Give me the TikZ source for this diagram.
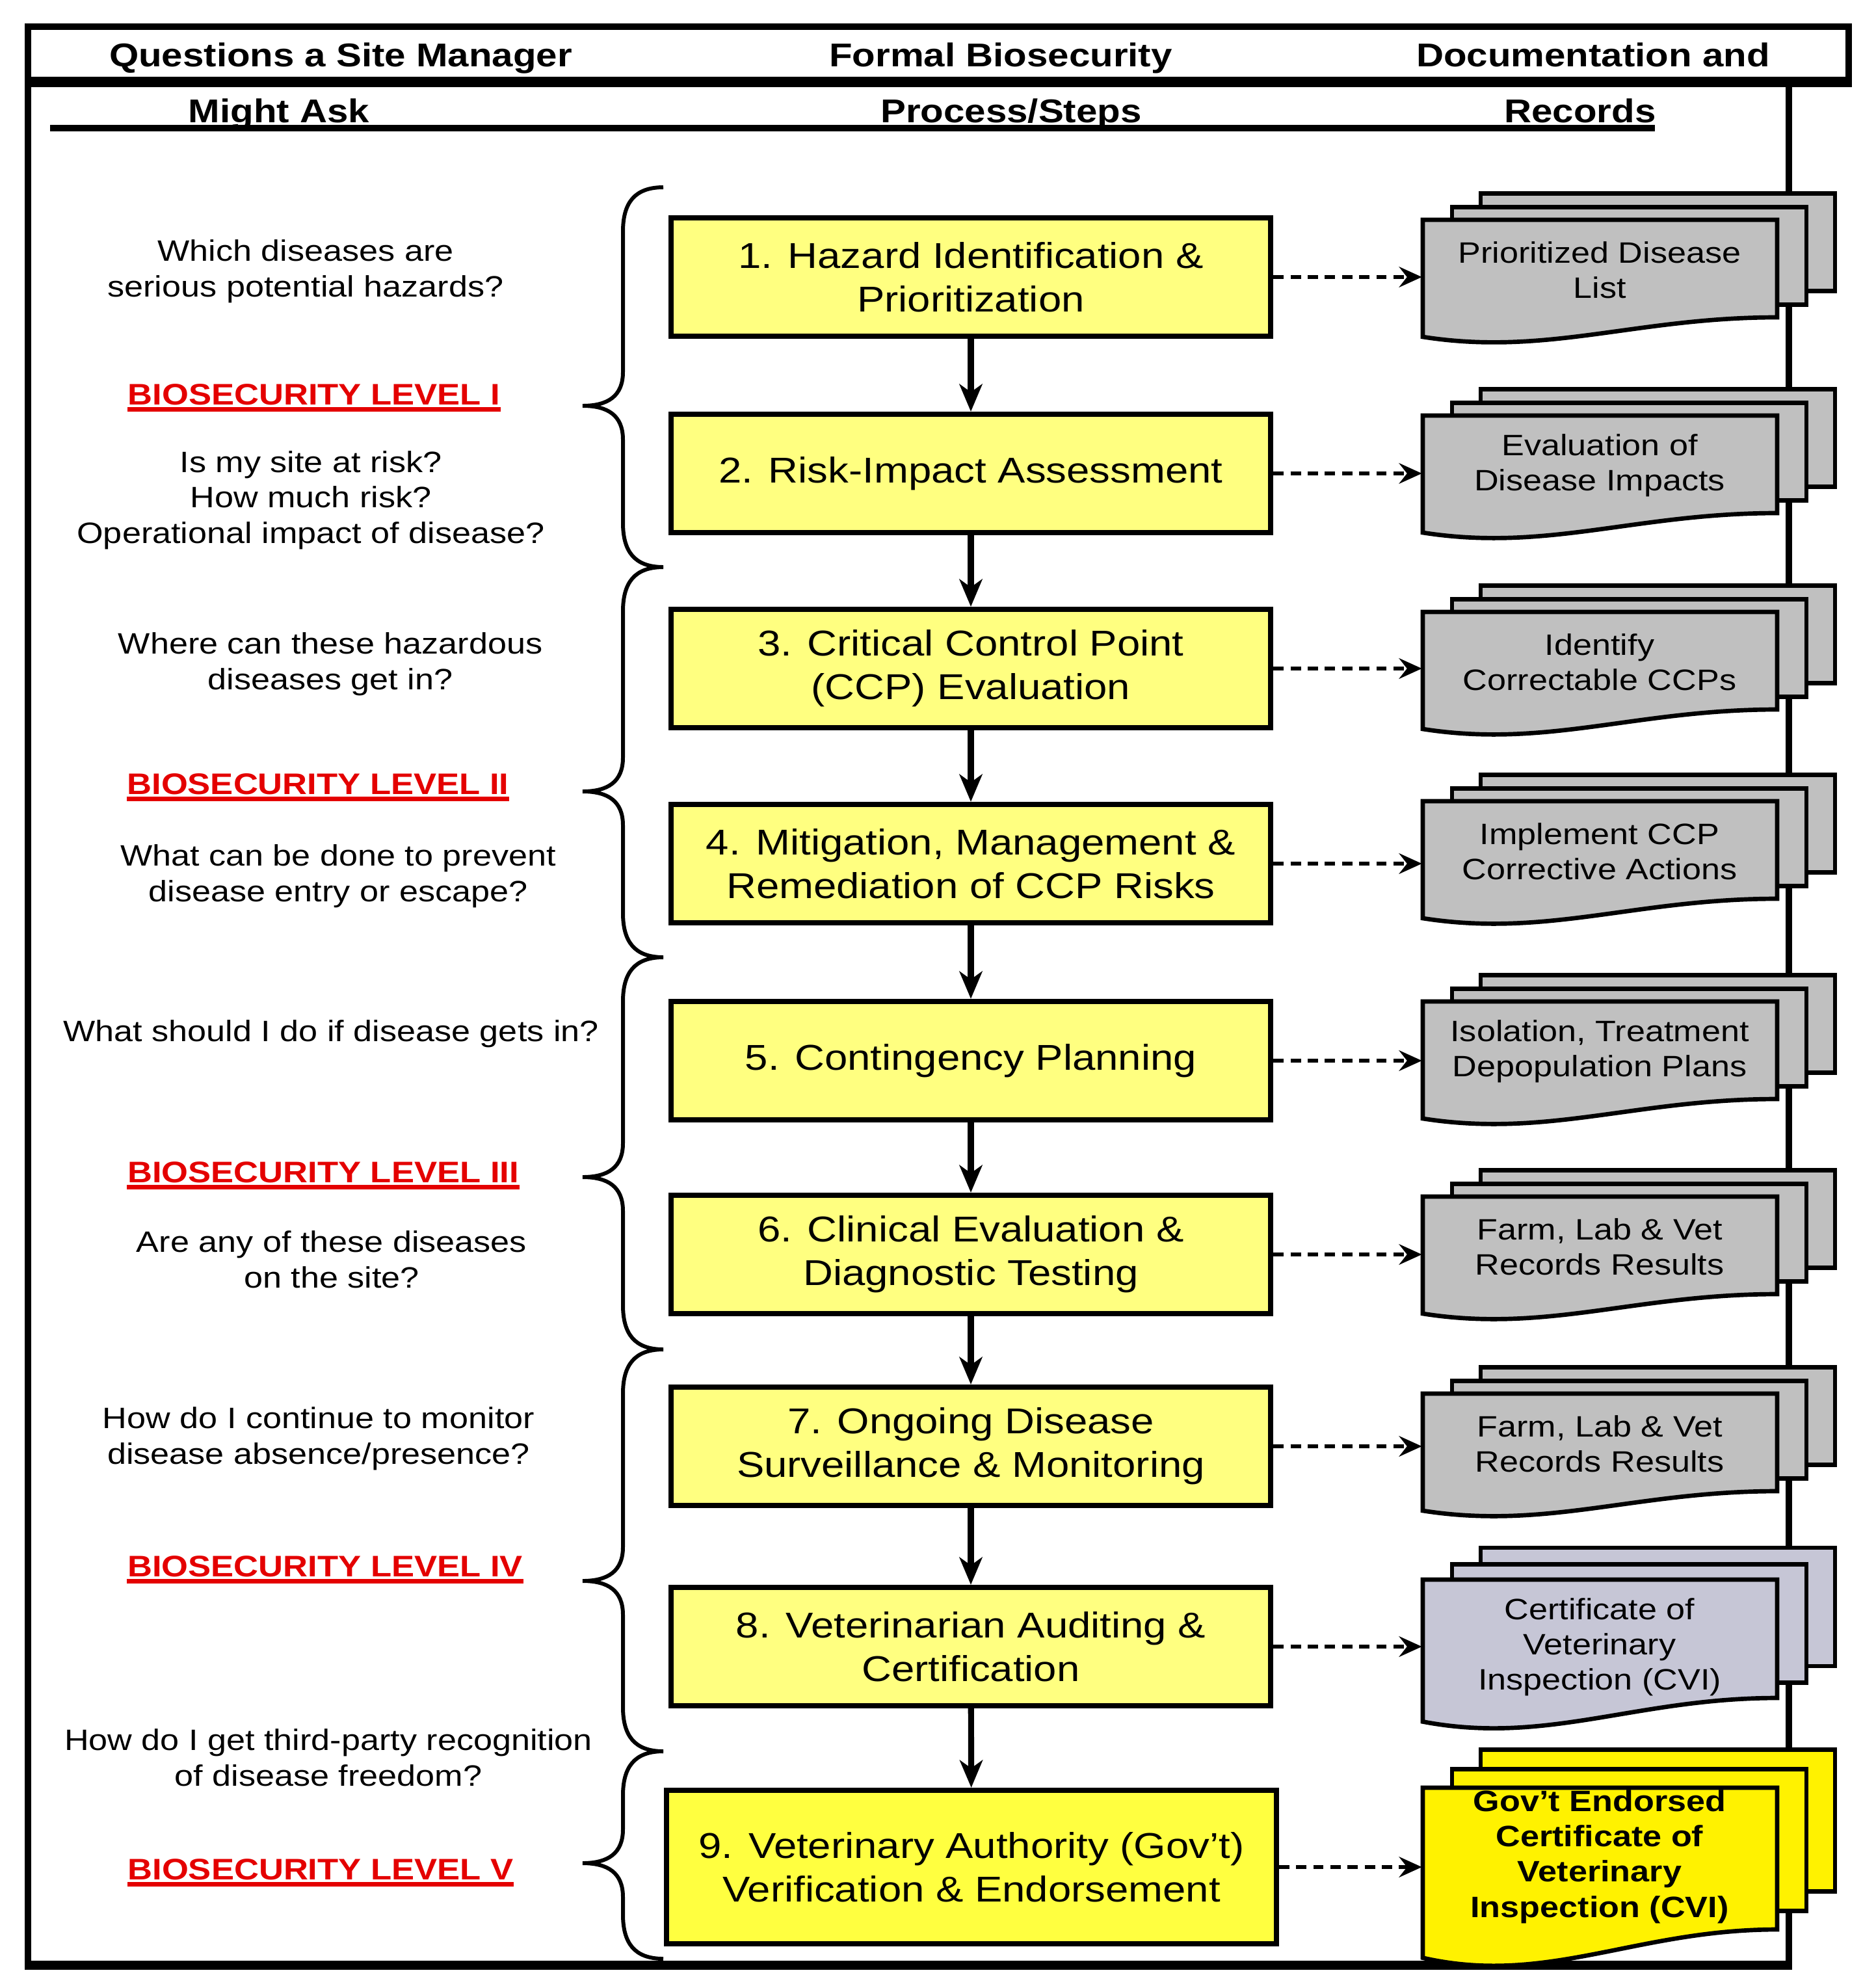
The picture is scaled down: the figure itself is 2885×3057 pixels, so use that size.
\documentclass[tikz,border=0pt]{standalone}
\usepackage{fontspec}
\setmainfont{Liberation Sans}[FakeStretch=1.15]
\usetikzlibrary{arrows.meta}

\definecolor{stepyellow}{RGB}{255,255,128}
\definecolor{topyellow}{RGB}{255,255,64}
\definecolor{docgray}{RGB}{192,192,192}
\definecolor{cvigray}{RGB}{198,198,214}
\definecolor{levelred}{RGB}{228,0,0}

% stacked document symbol: [fill]{name}{top}{height}{text offset}{text}
\newcommand{\docstack}[6][docgray]{%
  \path[sheet,fill=#1] (2277,#3-0.27*#4) rectangle ++(545,#4);
  \path[sheet,fill=#1] (2233,#3-0.13*#4) rectangle ++(545,#4);
  \path[sheet,fill=#1] (2188,#3) -- (2733,#3) -- (2733,#3+#4)
    .. controls (2515,#3+#4) and (2379,#3+1.4*#4) .. (2188,#3+1.2*#4) -- cycle;
  \node (#2) at (2460,#3+#5) [doc] {#6};}

\begin{document}
\begin{tikzpicture}
  [x=0.01cm,y=-0.01cm,
   frame/.style={line width=2.8pt,line join=miter},
   head/.style={font=\fontsize{14.4}{17}\selectfont\bfseries,anchor=base},
   question/.style={font=\fontsize{12.9}{15.4}\selectfont,align=center,anchor=base},
   level/.style={font=\fontsize{13}{15}\selectfont\bfseries,text=levelred,anchor=base,inner sep=0pt},
   uline/.style={levelred,line width=1.9pt},
   stepbox/.style={draw,line width=2.3pt,fill=stepyellow,minimum width=9.22cm,
     minimum height=1.82cm,align=center,font=\fontsize{15.7}{19}\selectfont},
   doc/.style={minimum width=5.45cm,inner sep=0pt,align=center,font=\fontsize{12.9}{15.4}\selectfont},
   sheet/.style={draw,line width=1.9pt,line join=miter},
   flow/.style={line width=2.6pt,-{Stealth[length=12pt,width=10pt,inset=3.5pt]}},
   ref/.style={line width=1.6pt,dash pattern=on 4.5pt off 3pt,-{Stealth[length=10pt,width=9pt,inset=3.5pt]}},
   brace/.style={line width=1.7pt}]
  \useasboundingbox (0,0) rectangle (2885,3057);

  % frame and column heads
  \draw[frame] (43,126) -- (43,41) -- (2843,41) -- (2843,126);
  \draw[frame] (43,126) -- (43,3022) -- (2751,3022) -- (2751,126);
  \draw[line width=4.5pt] (38,126) -- (2848,126);
  \draw[line width=4pt] (38,3022) -- (2756,3022);
  \draw[line width=2.6pt] (77,197) -- (2545,197);
  \node (h1) at (524,102) [head] {Questions a Site Manager};
  \node (h2) at (1539,102) [head] {Formal Biosecurity};
  \node (h3) at (2450,102) [head] {Documentation and};
  \node (h4) at (429,188) [head] {Might Ask};
  \node (h5) at (1555,188) [head] {Process/Steps};
  \node (h6) at (2430,188) [head] {Records};

  % questions and levels (base = last line)
  \node (q1) at (470,456) [question] {Which diseases are\\serious potential hazards?};
  \node (lv1) at (483,622) [level] {BIOSECURITY LEVEL I};
  \node (q2) at (478,835) [question] {Is my site at risk?\\How much risk?\\Operational impact of disease?};
  \node (q3) at (508,1060) [question] {Where can these hazardous\\diseases get in?};
  \node (lv2) at (489,1221) [level] {BIOSECURITY LEVEL II};
  \node (q4) at (520,1386) [question] {What can be done to prevent\\disease entry or escape?};
  \node (q5) at (509,1601) [question] {What should I do if disease gets in?};
  \node (lv3) at (497,1818) [level] {BIOSECURITY LEVEL III};
  \node (q6) at (510,1980) [question] {Are any of these diseases\\on the site?};
  \node (q7) at (490,2251) [question] {How do I continue to monitor\\disease absence/presence?};
  \node (lv4) at (500,2424) [level] {BIOSECURITY LEVEL IV};
  \node (q8) at (505,2746) [question] {How do I get third-party recognition\\of disease freedom?};
  \node (lv5) at (493,2890) [level] {BIOSECURITY LEVEL V};
  \foreach \i in {1,...,5}
    \draw[uline] ([yshift=-2.2pt]lv\i.base west) -- ([yshift=-2.2pt]lv\i.base east);

  \foreach \t/\m/\b in {288/624/872,872/1217/1472,1472/1810/2075,2075/2431/2693,2693/2865/3012}
    \draw[brace] (1020,\t) .. controls (975,\t) and (958,\t+25) .. (958,\t+68)
      -- (958,\m-52) .. controls (958,\m-15) and (935,\m) .. (896,\m)
      .. controls (935,\m) and (958,\m+15) .. (958,\m+52)
      -- (958,\b-68) .. controls (958,\b-25) and (975,\b) .. (1020,\b);

  % process steps
  \node (s1) at (1493,426) [stepbox] {1. Hazard Identification \&\\Prioritization};
  \node (s2) at (1493,728) [stepbox] {2. Risk-Impact Assessment};
  \node (s3) at (1493,1028) [stepbox] {3. Critical Control Point\\(CCP) Evaluation};
  \node (s4) at (1493,1328) [stepbox] {4. Mitigation, Management \&\\Remediation of CCP Risks};
  \node (s5) at (1493,1631) [stepbox] {5. Contingency Planning};
  \node (s6) at (1493,1929) [stepbox] {6. Clinical Evaluation \&\\Diagnostic Testing};
  \node (s7) at (1493,2224) [stepbox] {7. Ongoing Disease\\Surveillance \& Monitoring};
  \node (s8) at (1493,2532) [stepbox] {8. Veterinarian Auditing \&\\Certification};
  \node (s9) at (1494,2871) [stepbox,fill=topyellow,minimum width=9.37cm,minimum height=2.36cm]
    {9. Veterinary Authority (Gov’t)\\Verification \& Endorsement};
  \foreach \i/\j in {1/2,2/3,3/4,4/5,5/6,6/7,7/8,8/9}
    \draw[flow] (s\i) -- (s\j);

  % records
  \docstack{d1}{338}{150}{77}{Prioritized Disease\\List}
  \docstack{d2}{639}{150}{77}{Evaluation of\\Disease Impacts}
  \docstack{d3}{941}{150}{77}{Identify\\Correctable CCPs}
  \docstack{d4}{1232}{150}{77}{Implement CCP\\Corrective Actions}
  \docstack{d5}{1540}{150}{77}{Isolation, Treatment\\Depopulation Plans}
  \docstack{d6}{1840}{150}{77}{Farm, Lab \& Vet\\Records Results}
  \docstack{d7}{2143}{150}{77}{Farm, Lab \& Vet\\Records Results}
  \docstack[cvigray]{d8}{2429}{182}{104}{Certificate of\\Veterinary\\Inspection (CVI)}
  \docstack[yellow]{d9}{2749}{218}{106}{\textbf{Gov’t Endorsed}\\\textbf{Certificate of}\\\textbf{Veterinary}\\\textbf{Inspection (CVI)}}
  \foreach \i in {1,...,9}
    \draw[ref] (s\i.east) -- (s\i.east -| d\i.west);
\end{tikzpicture}
\end{document}
